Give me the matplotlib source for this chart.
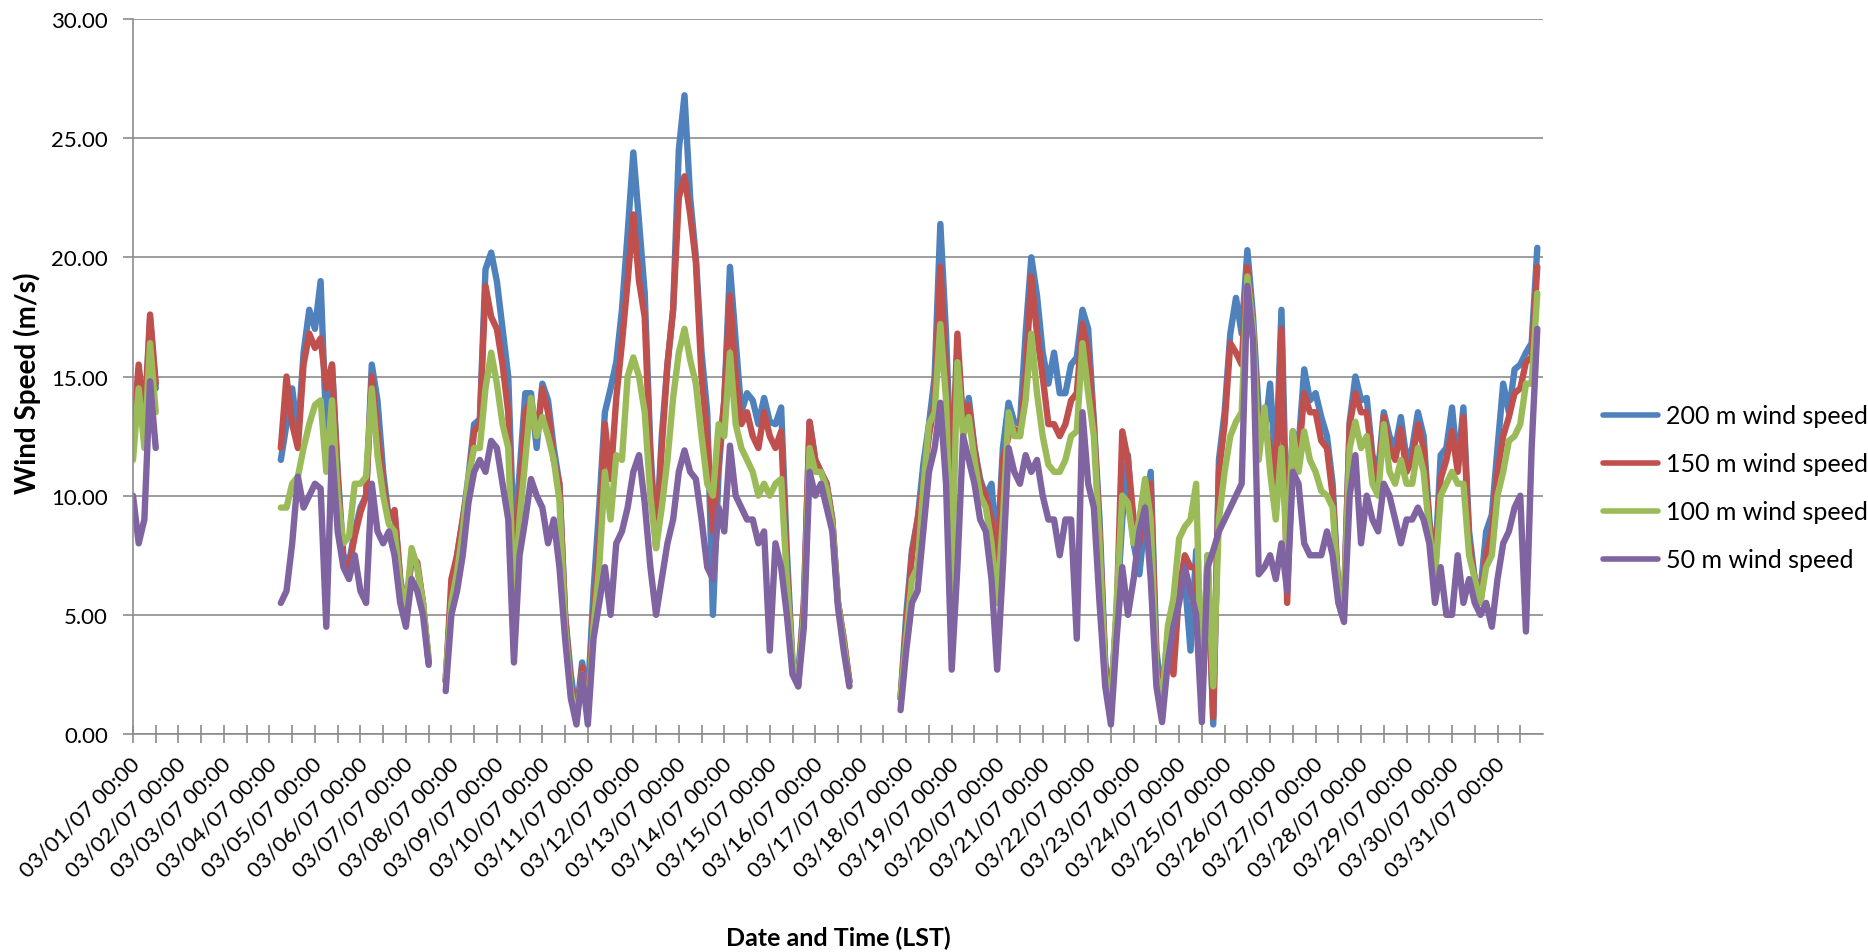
import numpy as np
import pandas as pd
import matplotlib
matplotlib.use('Agg')
import matplotlib.pyplot as plt
from matplotlib.ticker import FormatStrFormatter, MultipleLocator
import matplotlib.dates as mdates
import matplotlib.transforms as mtransforms

N = float('nan')

# 3-hourly readings, 8 values per day (00,03,...,21 h), 03/01/07 .. 03/31/07
ws_200 = [
    12.1, 15.3, 12.8, 17.4, 14.5, N, N, N,
    N, N, N, N, N, N, N, N,
    N, N, N, N, N, N, N, N,
    N, N, 11.5, 13.0, 14.5, 12.5, 16.0, 17.8,
    17.0, 19.0, 12.7, 15.5, 11.0, 7.5, 7.2, 8.5,
    9.5, 10.0, 15.5, 14.0, 11.0, 9.0, 9.3, 6.5,
    5.0, 7.5, 7.0, 5.5, 3.0, N, N, 2.2,
    6.0, 7.5, 9.0, 10.8, 13.0, 13.2, 19.5, 20.2,
    19.0, 17.0, 15.0, 8.0, 11.0, 14.3, 14.3, 12.0,
    14.7, 14.0, 12.0, 10.5, 5.0, 2.5, 0.8, 3.0,
    1.5, 6.0, 9.5, 13.5, 14.5, 15.6, 17.8, 21.0,
    24.4, 21.5, 18.5, 12.0, 8.0, 12.5, 15.5, 17.8,
    24.5, 26.8, 22.5, 20.0, 16.0, 13.5, 5.0, 11.0,
    14.0, 19.6, 16.5, 13.5, 14.3, 14.0, 13.0, 14.1,
    13.1, 13.0, 13.7, 7.7, 3.0, 2.5, 5.5, 13.1,
    11.5, 11.0, 10.5, 9.0, 5.5, 4.0, 2.2, N,
    N, N, N, N, N, N, N, 1.5,
    5.0, 7.7, 9.0, 11.3, 13.0, 15.0, 21.4, 16.8,
    10.5, 16.0, 13.0, 14.1, 12.0, 10.7, 10.0, 10.5,
    7.5, 12.0, 13.9, 13.1, 13.0, 16.8, 20.0, 18.4,
    16.0, 14.7, 16.0, 14.3, 14.3, 15.5, 15.8, 17.8,
    17.0, 13.1, 9.0, 3.0, 1.5, 5.0, 9.0, 11.7,
    8.0, 6.7, 9.0, 11.0, 3.5, 1.5, 4.2, 4.5,
    6.7, 6.5, 3.5, 7.7, 1.5, 7.5, 0.4, 11.5,
    13.5, 16.8, 18.3, 16.8, 20.3, 17.5, 13.5, 12.5,
    14.7, 11.0, 17.8, 8.0, 12.7, 12.0, 15.3, 14.0,
    14.3, 13.3, 12.5, 10.5, 6.0, 5.5, 13.1, 15.0,
    14.0, 14.1, 11.7, 11.0, 13.5, 12.5, 12.0, 13.3,
    11.5, 12.0, 13.5, 12.5, 9.0, 7.0, 11.7, 12.0,
    13.7, 11.2, 13.7, 8.5, 6.5, 6.0, 8.5, 9.2,
    12.0, 14.7, 13.5, 15.3, 15.5, 16.0, 16.4, 20.4,
]

ws_150 = [
    12.3, 15.5, 13.0, 17.6, 14.7, N, N, N,
    N, N, N, N, N, N, N, N,
    N, N, N, N, N, N, N, N,
    N, N, 12.0, 15.0, 13.0, 12.0, 15.5, 16.8,
    16.2, 16.6, 14.5, 15.5, 10.8, 7.2, 7.0, 8.3,
    9.3, 10.0, 15.0, 12.7, 10.5, 9.0, 9.4, 6.5,
    5.0, 7.5, 7.2, 5.5, 3.0, N, N, 2.2,
    6.5, 7.5, 9.0, 10.5, 12.7, 13.0, 18.8, 17.5,
    17.0, 15.5, 13.5, 6.0, 10.0, 13.5, 14.0, 12.5,
    14.5, 13.5, 11.5, 10.5, 5.0, 2.0, 0.6, 2.8,
    1.0, 5.0, 8.0, 13.0, 10.7, 14.1, 16.4, 19.0,
    21.8, 19.0, 17.5, 11.5, 7.8, 12.0, 15.5, 17.8,
    22.5, 23.4, 21.8, 19.8, 15.0, 12.5, 8.5, 11.5,
    14.0, 18.4, 15.0, 13.0, 13.5, 12.5, 12.0, 13.5,
    12.5, 12.0, 12.7, 7.0, 2.8, 2.0, 5.5, 13.1,
    11.5, 11.0, 10.5, 9.0, 5.5, 4.0, 2.2, N,
    N, N, N, N, N, N, N, 1.5,
    4.5, 7.5, 9.0, 10.5, 12.5, 14.0, 19.6, 15.2,
    10.5, 16.8, 13.0, 13.8, 12.0, 10.5, 10.0, 9.0,
    7.0, 11.5, 12.5, 12.8, 12.5, 15.0, 19.2, 16.8,
    15.0, 13.0, 13.0, 12.5, 13.0, 14.0, 14.3, 17.2,
    16.0, 13.0, 8.5, 2.8, 1.2, 5.0, 12.7, 11.5,
    9.0, 8.0, 10.5, 10.5, 3.0, 1.2, 4.0, 2.5,
    6.0, 7.5, 7.0, 7.0, 1.5, 7.0, 0.7, 11.0,
    13.0, 16.4, 16.0, 15.5, 19.6, 17.0, 12.5, 13.0,
    12.0, 10.5, 17.0, 5.5, 12.5, 11.5, 14.3, 13.5,
    13.5, 12.3, 12.0, 10.0, 6.0, 5.5, 13.0, 14.3,
    13.5, 13.5, 11.5, 10.5, 13.3, 12.0, 11.5, 12.8,
    11.0, 11.5, 13.0, 12.0, 8.8, 6.8, 10.7, 11.5,
    12.7, 11.0, 13.3, 8.0, 6.5, 5.5, 7.5, 8.5,
    11.0, 12.5, 13.3, 14.3, 14.5, 15.6, 15.8, 19.6,
]

ws_100 = [
    11.5, 14.5, 12.0, 16.4, 13.5, N, N, N,
    N, N, N, N, N, N, N, N,
    N, N, N, N, N, N, N, N,
    N, N, 9.5, 9.5, 10.5, 10.8, 12.0, 13.0,
    13.8, 14.0, 11.0, 14.0, 10.0, 8.0, 8.3, 10.5,
    10.5, 10.8, 14.5, 11.7, 10.0, 8.8, 8.5, 6.3,
    5.2, 7.8, 7.0, 5.5, 3.2, N, N, 2.4,
    5.5, 6.8, 8.5, 10.8, 12.0, 12.0, 14.5, 16.0,
    14.7, 13.0, 12.0, 5.5, 9.0, 11.5, 14.1, 12.5,
    13.3, 12.5, 11.5, 9.8, 4.5, 1.8, 0.6, 2.5,
    0.8, 4.5, 7.0, 11.0, 9.0, 11.7, 11.5, 15.0,
    15.8, 15.0, 13.5, 10.0, 7.8, 9.5, 11.5, 14.1,
    16.0, 17.0, 15.7, 14.7, 12.5, 10.5, 10.0, 13.0,
    12.5, 16.0, 13.0, 12.0, 11.5, 11.0, 10.0, 10.5,
    10.0, 10.5, 10.7, 6.5, 3.0, 2.2, 5.0, 12.0,
    11.0, 11.0, 10.3, 8.8, 5.5, 3.8, 2.0, N,
    N, N, N, N, N, N, N, 1.5,
    4.0, 6.5, 7.0, 10.3, 13.0, 13.5, 17.2, 14.0,
    6.0, 15.6, 12.5, 13.3, 11.5, 10.0, 9.5, 8.0,
    5.5, 9.0, 13.5, 12.5, 12.5, 14.0, 16.8, 14.3,
    12.5, 11.3, 11.0, 11.0, 11.5, 12.5, 12.7, 16.4,
    14.3, 12.5, 8.0, 2.5, 1.0, 5.5, 10.0, 9.7,
    8.0, 9.0, 10.7, 9.0, 2.5, 1.2, 4.5, 5.7,
    8.2, 8.7, 9.0, 10.5, 1.5, 7.5, 2.0, 9.0,
    11.0, 12.5, 13.1, 13.5, 19.2, 17.0, 11.5, 13.7,
    11.0, 9.0, 12.0, 7.5, 12.7, 11.0, 12.7, 11.5,
    11.0, 10.2, 10.0, 9.5, 6.0, 5.5, 12.0, 13.1,
    12.0, 12.5, 10.5, 10.0, 13.0, 11.0, 10.5, 11.5,
    10.5, 10.5, 12.0, 11.0, 8.5, 6.5, 10.0, 10.5,
    11.0, 10.5, 10.5, 7.5, 6.5, 5.5, 7.0, 7.5,
    10.0, 11.0, 12.3, 12.5, 13.0, 14.7, 14.7, 18.5,
]

ws_50 = [
    10.0, 8.0, 9.0, 14.8, 12.0, N, N, N,
    N, N, N, N, N, N, N, N,
    N, N, N, N, N, N, N, N,
    N, N, 5.5, 6.0, 8.0, 10.8, 9.5, 10.0,
    10.5, 10.3, 4.5, 12.0, 8.5, 7.0, 6.5, 7.5,
    6.0, 5.5, 10.5, 8.5, 8.0, 8.5, 7.5, 5.5,
    4.5, 6.5, 6.0, 5.0, 2.9, N, N, 1.8,
    5.0, 6.0, 7.5, 9.7, 11.0, 11.5, 11.0, 12.3,
    12.0, 10.5, 9.0, 3.0, 7.5, 9.0, 10.7, 10.0,
    9.5, 8.0, 9.0, 7.0, 4.0, 1.5, 0.4, 2.5,
    0.4, 4.0, 5.5, 7.0, 5.0, 8.0, 8.5, 9.5,
    11.0, 11.7, 9.7, 7.0, 5.0, 6.5, 8.0, 9.0,
    11.0, 11.9, 11.0, 10.7, 9.0, 7.0, 6.5, 9.5,
    8.5, 12.1, 10.0, 9.5, 9.0, 9.0, 8.0, 8.5,
    3.5, 8.0, 7.0, 5.0, 2.5, 2.0, 4.5, 11.0,
    10.0, 10.5, 9.5, 8.5, 5.3, 3.5, 2.0, N,
    N, N, N, N, N, N, N, 1.0,
    3.5, 5.5, 6.0, 8.5, 11.0, 12.0, 13.9, 10.5,
    2.7, 7.0, 12.5, 11.5, 10.5, 9.0, 8.5, 6.5,
    2.7, 7.0, 12.0, 11.0, 10.5, 11.7, 11.0, 11.5,
    10.0, 9.0, 9.0, 7.5, 9.0, 9.0, 4.0, 13.5,
    10.5, 9.5, 5.5, 2.0, 0.4, 4.0, 7.0, 5.0,
    6.5, 8.5, 9.5, 6.5, 2.0, 0.5, 3.0, 4.5,
    5.5, 7.0, 6.0, 5.0, 0.5, 7.0, 7.7, 8.5,
    9.0, 9.5, 10.0, 10.5, 18.8, 16.5, 6.7, 7.0,
    7.5, 6.5, 8.0, 6.0, 11.0, 10.5, 8.0, 7.5,
    7.5, 7.5, 8.5, 7.5, 5.5, 4.7, 10.0, 11.7,
    8.0, 10.0, 9.0, 8.5, 10.5, 10.0, 9.0, 8.0,
    9.0, 9.0, 9.5, 9.0, 8.0, 5.5, 7.0, 5.0,
    5.0, 7.5, 5.5, 6.5, 5.5, 5.0, 5.5, 4.5,
    6.5, 8.0, 8.5, 9.5, 10.0, 4.3, 12.0, 17.0,
]

series_labels = ['200 m wind speed', '150 m wind speed', '100 m wind speed', '50 m wind speed']
series_colors = ['#4F81BD', '#C0504D', '#9BBB59', '#8064A2']
start_date = '2007-03-01 00:00'
end_date = '2007-04-01 00:00'
y_label = 'Wind Speed (m/s)'
x_label = 'Date and Time (LST)'

plt.rcParams['font.family'] = ['Lato', 'DejaVu Sans']

times = pd.date_range(start_date, periods=len(ws_200), freq='3h')

W, H = 1868, 953
fig = plt.figure(figsize=(W / 100, H / 100), dpi=100)
ax = fig.add_axes([133 / W, 1 - 735 / H, 1410 / W, 715 / H])

grey = '#8c8c8c'
for vals, col, lab in zip([ws_200, ws_150, ws_100, ws_50], series_colors, series_labels):
    ax.plot(times, vals, color=col, lw=4.6, label=lab,
            solid_capstyle='round', solid_joinstyle='round')

ax.set_xlim(pd.Timestamp(start_date), pd.Timestamp(end_date))
ax.set_ylim(0, 30)
ax.yaxis.set_major_locator(MultipleLocator(5))
ax.yaxis.set_major_formatter(FormatStrFormatter('%.2f'))
ax.grid(axis='y', color=grey, lw=1.2)
ax.set_axisbelow(True)

for s in ['top', 'right']:
    ax.spines[s].set_visible(False)
for s in ['left', 'bottom']:
    ax.spines[s].set_color(grey)
    ax.spines[s].set_linewidth(1.2)

major = pd.date_range('2007-03-01', '2007-03-31', freq='D')
minor = pd.date_range('2007-03-01 12:00', '2007-03-31 12:00', freq='D')
ax.set_xticks(mdates.date2num(major))
ax.set_xticks(mdates.date2num(minor), minor=True)
ax.set_xticklabels([d.strftime('%m/%d/%y %H:%M') for d in major],
                   rotation=45, ha='right', va='center', rotation_mode='anchor')
ax.tick_params(axis='x', which='both', direction='inout', length=13, width=1.2,
               color=grey, labelsize=16, pad=12)
ax.tick_params(axis='y', direction='out', length=7, width=1.2, color=grey,
               labelsize=16, pad=11)
shift = mtransforms.ScaledTranslation(4 / 100, 0, fig.dpi_scale_trans)
for lbl in ax.get_xticklabels():
    lbl.set_transform(lbl.get_transform() + shift)

fig.text(27 / W, 1 - 383 / H, y_label, rotation=90, ha='center', va='center',
         fontsize=20, fontweight='bold')
fig.text(838 / W, 1 - 938 / H, x_label, ha='center', va='center',
         fontsize=18, fontweight='bold')

leg = fig.legend(loc='center left', bbox_to_anchor=(1603 / W, 1 - 489 / H),
                 frameon=False, fontsize=18, handlelength=2.2, handletextpad=0.3,
                 labelspacing=1.0, borderpad=0, borderaxespad=0)
for ln in leg.get_lines():
    ln.set_linewidth(4.0)

fig.savefig('out.png', dpi=100)
